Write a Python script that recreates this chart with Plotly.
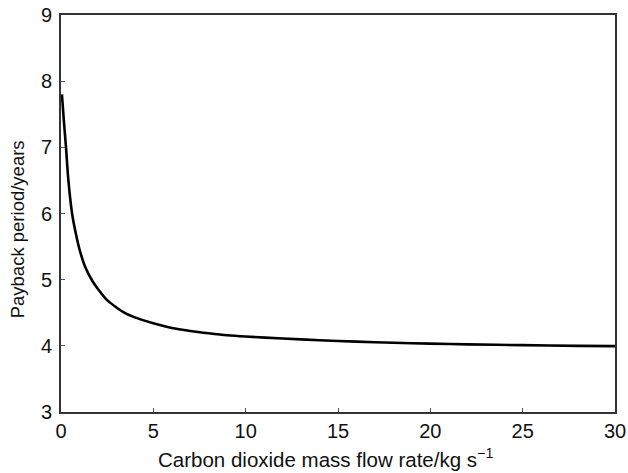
import plotly.graph_objects as go

flow_rate = [0.05, 0.15, 0.27, 0.4, 0.6, 0.8, 1.0, 1.3, 1.7, 2.0, 2.5, 3.0, 3.5, 4.0,
             5.0, 6.0, 7.0, 8.0, 9.0, 10, 12, 14, 16, 18, 20, 22, 25, 28, 30]
payback = [7.8, 7.42, 7.0, 6.5, 6.0, 5.7, 5.46, 5.2, 4.98, 4.86, 4.69, 4.58, 4.49, 4.43,
           4.34, 4.27, 4.225, 4.19, 4.16, 4.14, 4.11, 4.085, 4.063, 4.047, 4.033, 4.022,
           4.011, 4.0, 3.995]

x_ticks = [0, 5, 10, 15, 20, 25, 30]
y_ticks = [3, 4, 5, 6, 7, 8, 9]

x_title = "Carbon dioxide mass flow rate/kg s<sup>\u22121</sup>"
y_title = "Payback period/years"

FAMILY = "Liberation Sans, Arial, sans-serif"

fig = go.Figure()
fig.add_trace(go.Scatter(x=flow_rate, y=payback, mode="lines",
                         line=dict(color="black", width=2.6, shape="spline", smoothing=0.8),
                         showlegend=False))

fig.update_layout(
    width=628, height=473,
    margin=dict(l=61, r=13, t=15, b=61),
    paper_bgcolor="white", plot_bgcolor="white",
    font=dict(family=FAMILY, size=20, color="#111"),
    annotations=[
        dict(text=x_title, xref="paper", yref="paper", x=0.477, y=-0.077,
             xanchor="center", yanchor="top", showarrow=False,
             font=dict(size=20.5, family=FAMILY, color="#111")),
        dict(text=y_title, xref="paper", yref="paper", x=-0.057, y=0.46,
             xanchor="right", yanchor="middle", textangle=-90, showarrow=False,
             font=dict(size=18.5, family=FAMILY, color="#111")),
    ],
)
fig.update_xaxes(
    range=[0, 30], tickvals=x_ticks, ticks="inside", ticklen=4, tickcolor="#555",
    tickfont=dict(size=20, family=FAMILY, color="#111"),
    showline=True, linecolor="#333", linewidth=1.6, mirror=True,
    showgrid=False, zeroline=False, automargin=False,
)
fig.update_yaxes(
    range=[3, 9], tickvals=y_ticks, ticks="inside", ticklen=4, tickcolor="#555",
    tickfont=dict(size=20, family=FAMILY, color="#111"), ticklabelstandoff=3,
    showline=True, linecolor="#333", linewidth=1.6, mirror=True,
    showgrid=False, zeroline=False, automargin=False,
)
fig.write_html("out.html")
